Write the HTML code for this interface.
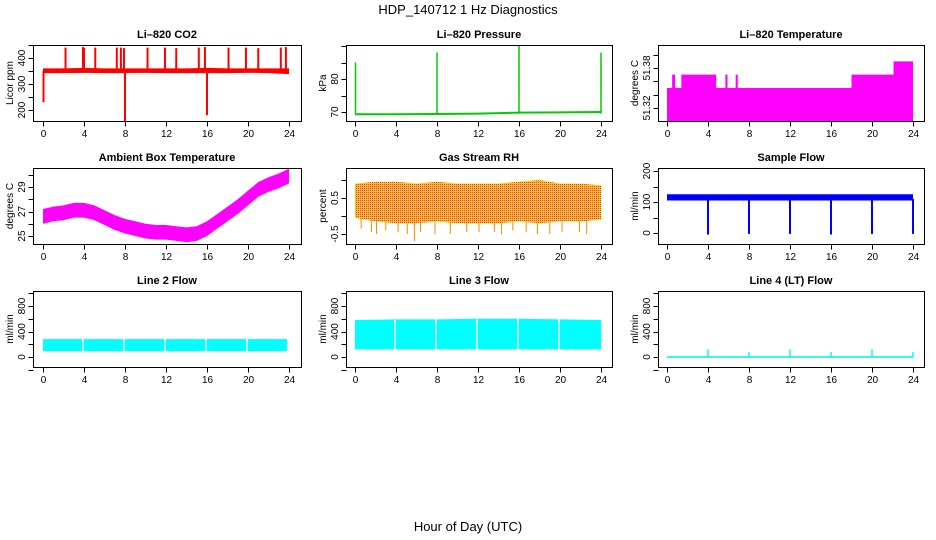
<!DOCTYPE html>
<html><head><meta charset="utf-8">
<style>
body{margin:0;background:#fff}
svg{display:block;font-family:"Liberation Sans",Arial,sans-serif}
.t{font-size:11px;font-weight:bold;text-anchor:middle}
.tk{font-size:10px;text-anchor:middle}
</style></head><body>
<svg id="c" width="936" height="540" viewBox="0 0 936 540">
<defs>
<pattern id="rh" width="2" height="2" patternUnits="userSpaceOnUse">
<rect width="2" height="2" fill="#ffcc00"/><rect width="1" height="1" fill="#ff3000"/>
</pattern>
</defs>
<text x="468" y="14" font-size="13" text-anchor="middle">HDP_140712  1 Hz Diagnostics</text>
<text x="468" y="531" font-size="13" text-anchor="middle">Hour of Day (UTC)</text>
</svg>
<script>
// ---- data ----
const xTicks=[0,4,8,12,16,20,24];
// CO2
const co2Hours=[0,2,4,6,8,10,12,14,16,18,20,22,24];
const co2Lo=[342,342,343,342,342,343,342,342,342,342,343,342,338];
const co2Hi=[360,360,362,360,360,360,360,360,362,360,360,360,360];
const co2SpikeHours=[2.2,3.9,4.0,5.1,7.2,7.6,7.9,10.2,11.9,13.0,15.2,15.8,18.1,19.8,21.0,23.2,23.7,0.05,8.0,16.0];
const co2SpikeVals=[440,442,438,440,440,440,438,440,440,438,440,442,440,440,438,440,442,230,157,180];
const co2Ticks=[200,300,400];
// Pressure
const presHours=[0,4,8,12,16,20,24];
const presVals=[69.3,69.3,69.4,69.5,69.8,69.9,70.0];
const presSpikeHours=[0.05,8.0,16.0,24.0];
const presSpikeVals=[85,88,90,88];
const presTicks=[70,80];
// Li-820 temperature (upper envelope, step)
const tempHours=[0,0.5,0.8,1.4,4.8,5.7,5.9,6.7,6.9,18.0,22.1,24];
const tempTop=[51.35,51.37,51.35,51.37,51.35,51.37,51.35,51.37,51.35,51.37,51.39,51.39];
const tempTicks=[51.32,51.38];
// Ambient box temperature
const ambHours=[0,1,2,3,4,5,6,7,8,9,10,11,12,13,14,15,16,17,18,19,20,21,22,23,24];
const ambVals=[26.6,26.8,26.9,27.1,27.1,26.9,26.5,26.1,25.8,25.6,25.4,25.3,25.3,25.2,25.1,25.2,25.6,26.2,26.8,27.4,28.1,28.8,29.2,29.5,29.9];
const ambTicks=[25,27,29];
// Gas stream RH
const rhHours=[0,2,4,6,8,10,12,14,16,18,20,22,24];
const rhLo=[-0.05,-0.15,-0.2,-0.2,-0.15,-0.2,-0.2,-0.2,-0.15,-0.2,-0.15,-0.15,-0.1];
const rhHi=[0.9,0.95,0.95,0.9,0.95,0.9,0.9,0.9,0.95,1.0,0.9,0.9,0.85];
const rhSpikeHours=[0.6,1.6,2.1,3.0,4.2,5.1,5.8,6.4,7.8,9.3,10.9,12.1,13.6,14.3,15.4,16.7,17.8,19.0,20.2,21.9,22.6];
const rhSpikeVals=[-0.35,-0.45,-0.5,-0.4,-0.45,-0.5,-0.7,-0.45,-0.5,-0.5,-0.45,-0.45,-0.45,-0.5,-0.4,-0.45,-0.5,-0.5,-0.45,-0.45,-0.5];
const rhTicks=[-0.5,0.5];
// Sample flow
const sfHours=[0,4,8,12,16,20,24];
const sfLo=[105,105,105,105,105,105,105];
const sfHi=[125,125,125,125,125,125,125];
const sfDropHours=[4,8,12,16,20,24];
const sfDropVals=[-5,-3,-3,-5,-3,-3];
const sfTicks=[0,100,200];
// Line 2 / Line 3 flow
const l2Hours=[0,4,8,12,16,20,23.8];
const l2Lo=[90,90,90,90,90,90,90];
const l2Hi=[280,280,280,280,280,280,280];
const l3Hours=[0,4,8,12,16,20,24];
const l3Lo=[120,120,120,120,120,120,120];
const l3Hi=[580,590,590,600,600,590,580];
const gapHours=[3.9,7.9,11.9,15.9,19.9];
// Line 4 flow
const l4SpikeHours=[4,8,12,16,20,24];
const l4SpikeVals=[120,80,120,80,120,80];
const flowTicks=[0,400,800];

// ---- drawing ----
const svg=document.getElementById('c');
const NS='http://www.w3.org/2000/svg';
function mk(tag,at,parent){const e=document.createElementNS(NS,tag);for(const k in at)e.setAttribute(k,at[k]);(parent||svg).appendChild(e);return e;}
const cols=[{b0:33,b1:301,x0:43,x24:289},{b0:346,b1:612,x0:355,x24:601},{b0:658,b1:924,x0:667,x24:913}];
const rows=[{t:45,b:121},{t:168,b:244},{t:291,b:367}];

function panel(name,ci,ri,title,ylab,yv0,yp0,yv1,yp1,ticks,minor){
  const c=cols[ci],r=rows[ri];
  const g=mk('g',{});
  
  
  const sx=h=>c.x0+(c.x24-c.x0)*h/24;
  const sy=v=>yp0+(yp1-yp0)*(v-yv0)/(yv1-yv0);
  const tt=mk('text',{x:(c.b0+c.b1)/2,y:r.t-7,class:'t'},g);tt.textContent=title;
  
  
  const plot=mk('g',{},g);
  
  
  const fr=mk('rect',{x:c.b0+.5,y:r.t+.5,width:c.b1-c.b0,height:r.b-r.t,fill:'none',stroke:'#000','stroke-width':1},g);
  
  
  const xa=mk('g',{},g);
  
  
  const by=r.b+.5;
  xTicks.forEach(h=>{const x=Math.round(sx(h))+.5;mk('line',{x1:x,x2:x,y1:by,y2:by+5,stroke:'#000'},xa);
    const t=mk('text',{x:x,y:r.b+16,class:'tk'},xa);t.textContent=h;});
  const ya=mk('g',{},g);
  
  
  const lx=c.b0+.5;
  const allT=(minor||[]).concat(ticks);
  allT.forEach(v=>{const y=sy(v);if(y<r.t-3||y>r.b+3)return;mk('line',{x1:lx-5,x2:lx,y1:Math.round(y)+.5,y2:Math.round(y)+.5,stroke:'#000'},ya);});
  ticks.forEach(v=>{const y=sy(v);const tx=c.b0-8;const t=mk('text',{x:tx,y:y,class:'tk',transform:`rotate(-90 ${tx} ${y})`},ya);t.textContent=v;});
  const ylx=c.b0-20;
  const yl=mk('text',{x:ylx,y:(r.t+r.b)/2,class:'tk',transform:`rotate(-90 ${ylx} ${(r.t+r.b)/2})`},g);yl.textContent=ylab;
  
  
  return {sx,sy,plot,r,c};
}
function band(P,hours,lo,hi,fill,nm){
  let pts=hours.map((h,i)=>P.sx(h)+','+P.sy(hi[i]));
  for(let i=hours.length-1;i>=0;i--)pts.push(P.sx(hours[i])+','+P.sy(lo[i]));
  const p=mk('polygon',{points:pts.join(' '),fill:fill},P.plot);
  
  
}
function spikes(P,hours,from,vals,col,w,nm){
  hours.forEach((h,i)=>{const x=P.sx(h);const f=Array.isArray(from)?from[i]:from;
    const l=mk('line',{x1:x,x2:x,y1:P.sy(f),y2:P.sy(vals[i]),stroke:col,'stroke-width':w},P.plot);
    
    });
}

// CO2
let P=panel('co2-panel',0,0,'Li\u2013820 CO2','Licor ppm',200,110,400,58,co2Ticks,[250,350,450]);
band(P,co2Hours,co2Lo,co2Hi,'#ff0000','co2-band');
spikes(P,co2SpikeHours,350,co2SpikeVals,'#ff0000',2,'co2-spike');
// Pressure
P=panel('pressure-panel',1,0,'Li\u2013820 Pressure','kPa',70,112,80,79,presTicks,[75,85,90]);
const pl=mk('polyline',{points:presHours.map((h,i)=>P.sx(h)+','+P.sy(presVals[i])).join(' '),fill:'none',stroke:'#00cc00','stroke-width':2},P.plot);


spikes(P,presSpikeHours,69.5,presSpikeVals,'#00cc00',1.5,'pressure-spike');
// Li temp
P=panel('li820-temp-panel',2,0,'Li\u2013820 Temperature','degrees C',51.32,108,51.38,68,tempTicks,[51.34,51.36,51.40]);
{let pts=[];tempHours.forEach((h,i)=>{if(i>0)pts.push(P.sx(h)+','+P.sy(tempTop[i-1]));pts.push(P.sx(h)+','+P.sy(tempTop[i]));});
 pts.push(P.sx(24)+','+P.r.b);pts.push(P.sx(0)+','+P.r.b);
 const p=mk('polygon',{points:pts.join(' '),fill:'#ff00ff'},P.plot);
 
 }
// Ambient
P=panel('ambient-temp-panel',0,1,'Ambient Box Temperature','degrees C',25,236,29,187,ambTicks,[26,28,30]);
band(P,ambHours,ambVals.map(v=>v-0.6),ambVals.map(v=>v+0.6),'#ff00ff','ambient-temp-band');
// RH
P=panel('rh-panel',1,1,'Gas Stream RH','percent',-0.5,234,0.5,198,rhTicks,[0,1.0]);
spikes(P,rhSpikeHours,0,rhSpikeVals,'#ff8800',1,'rh-spike');
band(P,rhHours,rhLo,rhHi,'url(#rh)','rh-band');
// Sample flow
P=panel('sample-flow-panel',2,1,'Sample Flow','ml/min',0,233,100,202,sfTicks,[50,150]);
band(P,sfHours,sfLo,sfHi,'#0000ff','sample-flow-band');
spikes(P,sfDropHours,110,sfDropVals,'#0000ff',2,'sample-flow-drop');
// Line 2
P=panel('line2-flow-panel',0,2,'Line 2 Flow','ml/min',0,357,800,306,flowTicks,[-200,200,600,1000]);
band(P,l2Hours,l2Lo,l2Hi,'#00ffff','line2-band');
spikes(P,gapHours,l2Lo[0],l2Hi,'#ffffff',1.5,'line2-gap');
// Line 3
P=panel('line3-flow-panel',1,2,'Line 3 Flow','ml/min',0,357,800,306,flowTicks,[-200,200,600,1000]);
band(P,l3Hours,l3Lo,l3Hi,'#00ffff','line3-band');
spikes(P,gapHours,l3Lo[0],l3Hi,'#ffffff',1.5,'line3-gap');
// Line 4
P=panel('line4-flow-panel',2,2,'Line 4 (LT) Flow','ml/min',0,357,800,306,flowTicks,[-200,200,600,1000]);
{const l=mk('line',{x1:P.sx(0),x2:P.sx(24),y1:P.sy(0),y2:P.sy(0),stroke:'#00eeee','stroke-width':1.5},P.plot);
 
 }
spikes(P,l4SpikeHours,0,l4SpikeVals,'#00ffff',1.5,'line4-spike');
</script>
</body></html>
